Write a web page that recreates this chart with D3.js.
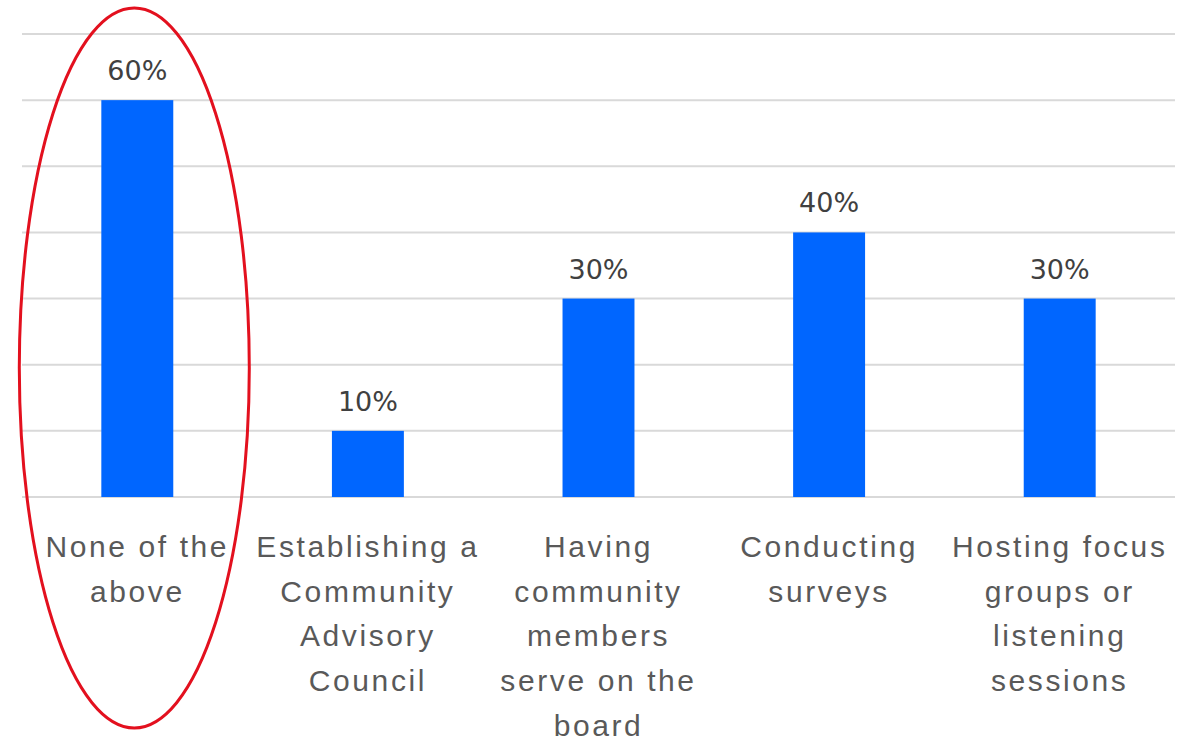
<!DOCTYPE html>
<html>
<head>
<meta charset="utf-8">
<script src="https://cdn.jsdelivr.net/npm/d3@7"></script>
<style>
  body { margin: 0; background: #fff; }
  svg { display: block; font-family: "DejaVu Sans", sans-serif; }
</style>
</head>
<body>
<div class="chart"></div>
<script>
// Data
const categories = ["None of the above", "Establishing a Community Advisory Council",
    "Having community members serve on the board", "Conducting surveys",
    "Hosting focus groups or listening sessions"];
const values = [0.6, 0.1, 0.3, 0.4, 0.3];
const tickLines = [
    ["None of the", "above"],
    ["Establishing a", "Community", "Advisory", "Council"],
    ["Having", "community", "members", "serve on the", "board"],
    ["Conducting", "surveys"],
    ["Hosting focus", "groups or", "listening", "sessions"]
];
const gridValues = [0, 0.1, 0.2, 0.3, 0.4, 0.5, 0.6, 0.7];

const width = 1186;
const height = 738;
const margin = { left: 22, right: 11, top: 34, bottom: 241 };

const x_scale = d3.scaleBand()
    .domain(categories)
    .range([margin.left, width - margin.right])
    .paddingInner(0.688)
    .paddingOuter(0.344);

const y_scale = d3.scaleLinear()
    .domain([0, 0.7])
    .range([height - margin.bottom, margin.top]);

const svg = d3.select(".chart")
    .append("svg")
    .attr("width", width)
    .attr("height", height)
    .attr("viewBox", [0, 0, width, height]);

// Gridlines
svg.append("g")
    .selectAll("line")
    .data(gridValues)
    .join("line")
        .attr("x1", margin.left)
        .attr("x2", width - margin.right)
        .attr("y1", (d) => y_scale(d))
        .attr("y2", (d) => y_scale(d))
        .attr("stroke", "#d9d9d9")
        .attr("stroke-width", 2);

// Bars
svg.append("g")
    .selectAll("rect")
    .data(categories)
    .join("rect")
        .attr("fill", "#0066ff")
        .attr("x", (d) => x_scale(d))
        .attr("y", (d, i) => y_scale(values[i]))
        .attr("width", x_scale.bandwidth())
        .attr("height", (d, i) => y_scale(0) - y_scale(values[i]));

// Value labels
svg.append("g")
    .selectAll("text")
    .data(categories)
    .join("text")
        .attr("x", (d) => x_scale(d) + x_scale.bandwidth() / 2)
        .attr("y", (d, i) => y_scale(values[i]) - 20)
        .attr("text-anchor", "middle")
        .attr("fill", "#404040")
        .attr("font-size", 27)
        .text((d, i) => d3.format(".0%")(values[i]));

// Category labels (wrapped)
const tickG = svg.append("g")
    .attr("transform", `translate(0, ${y_scale(0)})`)
    .call(d3.axisBottom(x_scale).tickSize(0).tickFormat(""))
    .call((g) => g.select(".domain").remove());

tickG.selectAll(".tick").each(function (d, i) {
    const t = d3.select(this).append("text")
        .attr("fill", "#595959")
        .attr("font-size", 30)
        .attr("letter-spacing", 2.6)
        .attr("text-anchor", "middle");
    tickLines[i].forEach((line, j) => {
        t.append("tspan")
            .attr("x", 0)
            .attr("y", 60 + j * 44.7)
            .text(line);
    });
});

// Red ellipse highlighting the first category
const first = x_scale(categories[0]) + x_scale.bandwidth() / 2;
svg.append("ellipse")
    .attr("cx", first - 3)
    .attr("cy", 368)
    .attr("rx", 115)
    .attr("ry", 360)
    .attr("fill", "none")
    .attr("stroke", "#e3101e")
    .attr("stroke-width", 3);
</script>
</body>
</html>
